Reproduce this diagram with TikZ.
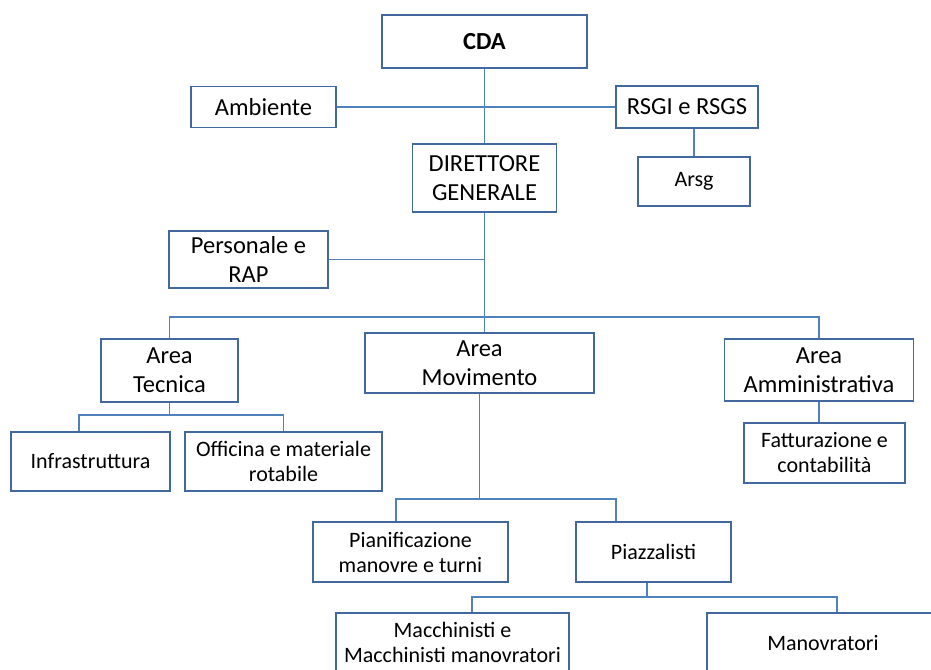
\documentclass[tikz,border=0pt]{standalone}
\usepackage{fontspec}
\setmainfont{Carlito}
\usepackage{tikz}
\usetikzlibrary{calc}

\definecolor{boxline}{RGB}{66,104,158}
\definecolor{linkblue}{RGB}{79,129,189}
\newcommand{\bigtxt}{\fontsize{24.5}{29}\selectfont}
\newcommand{\smalltxt}{\fontsize{22}{25}\selectfont}

\begin{document}
\begin{tikzpicture}[x=1pt, y=-1pt,
    box/.style={draw=boxline, line width=1.8pt, fill=white, align=center, inner sep=0pt, font=\bigtxt},
    small/.style={box, font=\smalltxt},
    link/.style={draw=linkblue, line width=1.8pt}]
         \useasboundingbox (0,0) rectangle (931,669);
         \clip (0,0) rectangle (931,669);
          \coordinate (bus) at (0,317);
          \coordinate (tbus) at (0,415);
          \coordinate (mbus) at (0,499);
          \coordinate (pbus) at (0,597);

          \node[box, minimum width=205pt, minimum height=53pt, font=\bigtxt\bfseries] (cda) at (484.5,41.5) {CDA};
          \node[box, minimum width=145pt, minimum height=41pt] (amb) at (263.5,107) {Ambiente};
          \node[box, minimum width=142pt, minimum height=42pt] (rsgi) at (687,107) {RSGI e RSGS};
          \node[box, minimum width=144pt, minimum height=68pt] (dg) at (484.5,178) {DIRETTORE\\GENERALE};
          \node[small, minimum width=112pt, minimum height=49pt] (arsg) at (694,181.5) {Arsg};
          \node[box, minimum width=159pt, minimum height=57pt] (pers) at (248.5,259.5) {Personale e\\RAP};

          \node[box, minimum width=137pt, minimum height=63pt] (atec) at (169.5,370.5) {Area\\Tecnica};
          \node[box, minimum width=229pt, minimum height=60pt] (amov) at (479.5,363) {Area\\Movimento};
          \node[box, minimum width=189pt, minimum height=62pt] (aamm) at (819,370) {Area\\Amministrativa};

          \node[small, minimum width=159pt, minimum height=59pt] (infra) at (90.5,461.5) {Infrastruttura};
          \node[small, minimum width=197pt, minimum height=59pt] (offi) at (283.5,461.5) {Officina e materiale\\rotabile};
          \node[small, minimum width=161pt, minimum height=60pt] (fatt) at (824.5,453) {Fatturazione e\\contabilità};

          \node[small, minimum width=195pt, minimum height=60pt] (pian) at (410.5,552) {Pianificazione\\manovre e turni};
          \node[small, minimum width=155pt, minimum height=60pt] (piaz) at (653.5,552) {Piazzalisti};
          \node[small, minimum width=233pt, minimum height=58pt] (macc) at (452.5,642) {Macchinisti e\\Macchinisti manovratori};
          \node[small, minimum width=232pt, minimum height=60pt] (manov) at (823,643) {Manovratori};

          \draw[link] (cda.south) -- (cda.south |- dg.north);
          \draw[link] (amb.east) -- (rsgi.west);
          \draw[link] (arsg.north) -- (arsg.north |- rsgi.south);
          \draw[link] (dg.south) -- (dg.south |- amov.north);
          \draw[link] (pers.east) -- (pers.east -| dg.south);
          \draw[link] (atec.north) -- (atec.north |- bus) -- (aamm.north |- bus) -- (aamm.north);

          \draw[link] (atec.south) -- (atec.south |- tbus);
          \draw[link] ([xshift=-11.5pt]infra.north) -- ([xshift=-11.5pt]infra.north |- tbus) -| (offi.north);
          \draw[link] (aamm.south) -- (aamm.south |- fatt.north);

          \draw[link] (amov.south) -- (amov.south |- mbus);
          \draw[link] ([xshift=-14.5pt]pian.north) -- ([xshift=-14.5pt]pian.north |- mbus) -| ([xshift=-37.5pt]piaz.north);
          \draw[link] ([xshift=-6.5pt]piaz.south) -- ([xshift=-6.5pt]piaz.south |- pbus);
          \draw[link] ([xshift=19.5pt]macc.north) -- ([xshift=19.5pt]macc.north |- pbus) -| ([xshift=14pt]manov.north);
      \end{tikzpicture}
\end{document}
